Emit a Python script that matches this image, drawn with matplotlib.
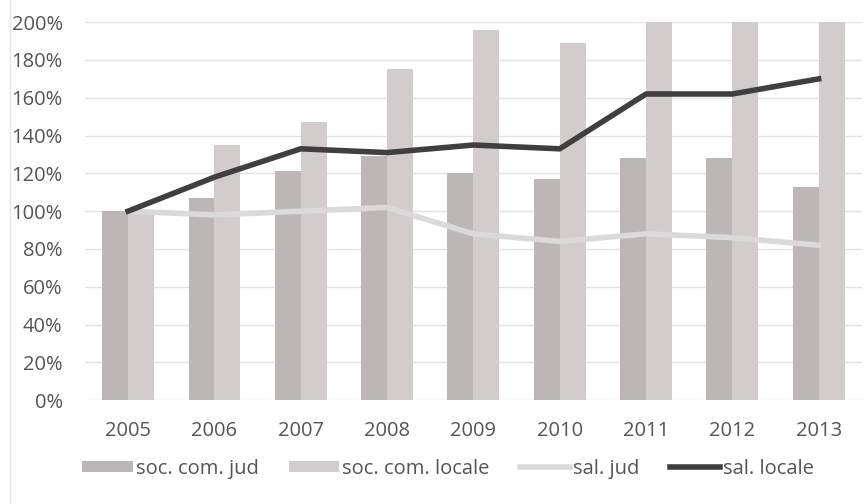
import numpy as np
import matplotlib.pyplot as plt
from matplotlib.ticker import PercentFormatter

# ------------------------------------------
# Daten (Index 2005 = 100%)
# ------------------------------------------
years = ["2005", "2006", "2007", "2008", "2009", "2010", "2011", "2012", "2013"]
soc_com_jud = [100, 107, 121, 129, 120, 117, 128, 128, 113]
soc_com_locale = [100, 135, 147, 175, 196, 189, 210, 212, 215]
sal_jud = [100, 98, 100, 102, 88, 84, 88, 86, 82]
sal_locale = [100, 118, 133, 131, 135, 133, 162, 162, 170]

# ------------------------------------------
# Plot
# ------------------------------------------
plt.rcParams["font.family"] = ["Open Sans", "DejaVu Sans"]
text_col = "#555555"
fs = 14.5

fig = plt.figure(figsize=(8.67, 5.04), dpi=100)
ax = fig.add_axes([0.098, 0.206, 0.896, 0.750])

x = np.arange(len(years))
w = 0.3
b1 = ax.bar(x - w / 2, soc_com_jud, w, color="#bdb6b6", label="soc. com. jud", zorder=2)
b2 = ax.bar(x + w / 2, soc_com_locale, w, color="#d3cccc", label="soc. com. locale", zorder=2)
l1, = ax.plot(x, sal_jud, color="#dadada", lw=4, label="sal. jud", zorder=3)
l2, = ax.plot(x, sal_locale, color="#3f3f3f", lw=4, label="sal. locale", zorder=4)

ax.set_xlim(-0.5, len(years) - 0.5)
ax.set_ylim(0, 200)
ax.set_yticks(np.arange(0, 201, 20))
ax.yaxis.set_major_formatter(PercentFormatter(decimals=0))
ax.set_xticks(x)
ax.set_xticklabels(years)
ax.grid(axis="y", color="#e2e2e2", lw=1, zorder=0)
for s in ax.spines.values():
    s.set_visible(False)
ax.tick_params(length=0, labelsize=fs, labelcolor=text_col)
ax.tick_params(axis="x", pad=15)
ax.tick_params(axis="y", pad=16)

leg = fig.legend([b1, b2, l1, l2], ["soc. com. jud", "soc. com. locale", "sal. jud", "sal. locale"],
                 loc="center", bbox_to_anchor=(0.517, 0.07), ncol=4, frameon=False,
                 fontsize=fs, handlelength=2.5, handletextpad=0.15, columnspacing=1.5,
                 handleheight=0.45)
for t in leg.get_texts():
    t.set_color(text_col)

# Rahmenlinie links
fig.add_artist(plt.Line2D([0.012, 0.012], [0.0, 1.0], color="#e6e6e6", lw=1))

fig.savefig("out.png", dpi=100)
